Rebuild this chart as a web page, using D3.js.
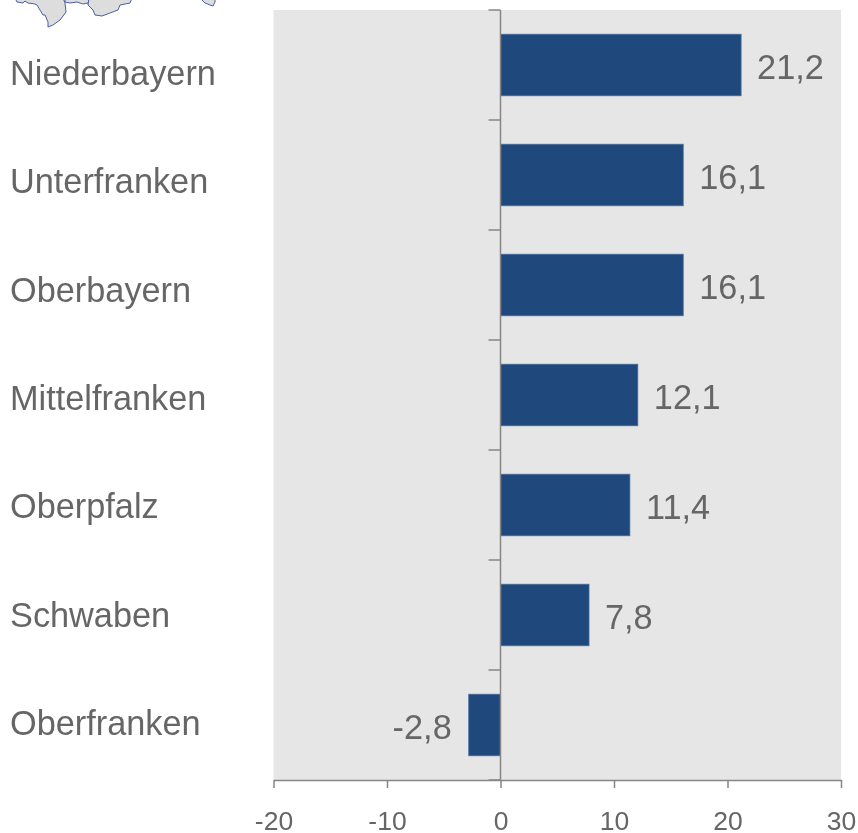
<!DOCTYPE html>
<html>
<head>
<meta charset="utf-8">
<script src="https://cdn.jsdelivr.net/npm/d3@7"></script>
<style>
  html, body { margin: 0; padding: 0; background: #fff; }
  svg { display: block; will-change: transform; }
  text { font-family: 'Liberation Sans', Arial, sans-serif; fill: #666; }
  .axis path, .axis line { stroke: #868686; stroke-width: 1.5; }
  .axis text { font-size: 26.5px; fill: #666; }
</style>
</head>
<body>
<svg width="858" height="833"></svg>
<script>
const regions = ['Niederbayern', 'Unterfranken', 'Oberbayern', 'Mittelfranken', 'Oberpfalz', 'Schwaben', 'Oberfranken'];
const changes = [21.2, 16.1, 16.1, 12.1, 11.4, 7.8, -2.8];
const xTicks = [-20, -10, 0, 10, 20, 30];

// bottom edge of the inset map that is cut off by the top of the picture
const mapParts = [
  'M15,-2 L17,2 L23,3 L25,1 L28,3 L35,4 L37,5 L40,10 L43,15 L45,15 L48,22 L48,27 L53,25 L60,20 L66,12 L65,3 L63,-2 Z',
  'M65,-2 L65,2 L70,3 L77,2 L83,4 L88,3 L90,-2 Z',
  'M89,-2 L88,5 L93,10 L95,15 L102,16 L110,13 L118,10 L120,5 L130,3 L132,-2 Z',
  'M200,-2 L205,3 L210,5 L213,6 L215,2 L215,-2 Z'
];

const svg = d3.select('svg');
const margin = { top: 10, left: 273.5, right: 17, bottom: 53 };
const width = 858 - margin.left - margin.right;
const height = 833 - margin.top - margin.bottom;

svg.append('g').selectAll('path')
  .data(mapParts)
  .join('path')
  .attr('d', d => d)
  .attr('fill', '#dddddd')
  .attr('stroke', '#4a5fa8')
  .attr('stroke-width', 1);

const g = svg.append('g').attr('transform', `translate(${margin.left},${margin.top})`);

const x = d3.scaleLinear().domain([-20, 30]).range([0, width]);
const y = d3.scaleBand().domain(regions).range([0, height]).paddingInner(0.44).paddingOuter(0.22);
// the category labels run on a slightly tighter step than the bars
const labelY = d3.scalePoint().domain(regions).range([85, 735]);

g.append('rect').attr('width', width).attr('height', height).attr('fill', '#e6e6e6');

g.selectAll('.bar')
  .data(changes)
  .join('rect')
  .attr('class', 'bar')
  .attr('x', d => x(Math.min(0, d)))
  .attr('y', (d, i) => y(regions[i]))
  .attr('width', d => Math.abs(x(d) - x(0)))
  .attr('height', y.bandwidth())
  .attr('fill', '#1f497d')
  .attr('stroke', '#4a6d9c')
  .attr('stroke-width', 0.75);

const axisX = d3.axisBottom(x)
  .tickValues(xTicks)
  .tickFormat(d => String(d))
  .tickSize(8)
  .tickSizeOuter(0);

g.append('g')
  .attr('class', 'axis')
  .attr('transform', `translate(0,${height})`)
  .call(axisX)
  .call(a => a.selectAll('text').attr('y', 31).attr('dy', '0.71em'));

// category ticks sit between the bars, on the band edges
const bandTicks = d3.range(regions.length + 1).map(i => i * height / regions.length);
const axisLine = g.append('g').attr('class', 'axis');
axisLine.append('line').attr('x1', x(0)).attr('x2', x(0)).attr('y1', 0).attr('y2', height);
axisLine.selectAll('.band-tick')
  .data(bandTicks)
  .join('line')
  .attr('class', 'band-tick')
  .attr('x1', x(0) - 12)
  .attr('x2', x(0))
  .attr('y1', d => d)
  .attr('y2', d => d);

svg.selectAll('.region')
  .data(regions)
  .join('text')
  .attr('class', 'region')
  .attr('x', 10)
  .attr('y', d => labelY(d))
  .attr('font-size', 34.3)
  .text(d => d);

g.selectAll('.value')
  .data(changes)
  .join('text')
  .attr('class', 'value')
  .attr('x', d => d < 0 ? x(d) - 17 : x(d) + 16)
  .attr('y', (d, i) => y(regions[i]) + y.bandwidth() / 2 + 13.5)
  .attr('text-anchor', d => d < 0 ? 'end' : 'start')
  .attr('font-size', 34.3)
  .text(d => String(d).replace('.', ','));
</script>
</body>
</html>
